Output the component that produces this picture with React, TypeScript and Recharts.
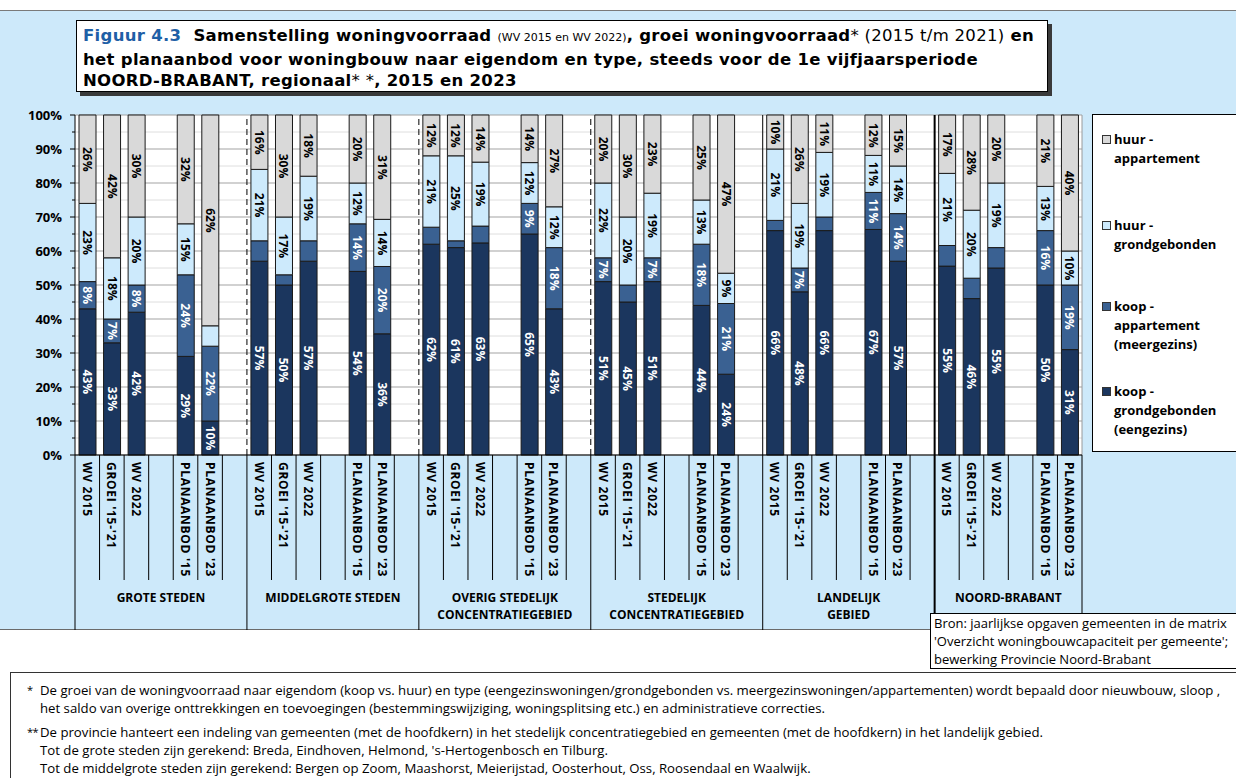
import { BarChart, Bar, XAxis, YAxis, CartesianGrid, ReferenceLine, LabelList } from "recharts"

// regions along the category axis
const regions = [
  ["GROTE STEDEN"],
  ["MIDDELGROTE STEDEN"],
  ["OVERIG STEDELIJK", "CONCENTRATIEGEBIED"],
  ["STEDELIJK", "CONCENTRATIEGEBIED"],
  ["LANDELIJK", "GEBIED"],
  ["NOORD-BRABANT"],
]

// slots per region, "" is an empty spacer column
const slots = ["WV 2015", "GROEI '15-'21", "WV 2022", "", "PLANAANBOD '15", "PLANAANBOD '23", ""]

// shares (%) per region: WV 2015, groei '15-'21, WV 2022, planaanbod '15, planaanbod '23
const koopGrond = [
  [43, 33, 42, 29, 10],
  [57, 50, 57, 54, 36],
  [62, 61, 63, 65, 43],
  [51, 45, 51, 44, 24],
  [66, 48, 66, 67, 57],
  [55, 46, 55, 50, 31],
]
const koopApp = [
  [8, 7, 8, 24, 22],
  [6, 3, 6, 14, 20],
  [5, 2, 5, 9, 18],
  [7, 5, 7, 18, 21],
  [3, 7, 4, 11, 14],
  [6, 6, 6, 16, 19],
]
const huurGrond = [
  [23, 18, 20, 15, 6],
  [21, 17, 19, 12, 14],
  [21, 25, 19, 12, 12],
  [22, 20, 19, 13, 9],
  [21, 19, 19, 11, 14],
  [21, 20, 19, 13, 10],
]
const huurApp = [
  [26, 42, 30, 32, 62],
  [16, 30, 18, 20, 31],
  [12, 12, 14, 14, 27],
  [20, 30, 23, 25, 47],
  [10, 26, 11, 12, 15],
  [17, 28, 20, 21, 40],
]

const yTickPercents = [0, 5, 10, 15, 20, 25, 30, 35, 40, 45, 50, 55, 60, 65, 70, 75, 80, 85, 90, 95, 100]

const series = [
  { key: "kg", values: koopGrond, name: ["koop -", "grondgebonden", "(eengezins)"], fill: "#1b365e", text: "#ffffff" },
  { key: "ka", values: koopApp, name: ["koop -", "appartement", "(meergezins)"], fill: "#3a6192", text: "#ffffff" },
  { key: "hg", values: huurGrond, name: ["huur -", "grondgebonden"], fill: "#cdeafc", text: "#000000" },
  { key: "ha", values: huurApp, name: ["huur -", "appartement"], fill: "#d9d9d9", text: "#000000" },
]

const sourceLines = [
  "Bron: jaarlijkse opgaven gemeenten in de matrix",
  "'Overzicht woningbouwcapaciteit per gemeente';",
  "bewerking Provincie Noord-Brabant",
]

const notes = [
  {
    mark: "*",
    lines: [
      "De groei van de woningvoorraad naar eigendom (koop vs. huur) en type (eengezinswoningen/grondgebonden vs. meergezinswoningen/appartementen) wordt bepaald door nieuwbouw, sloop ,",
      "het saldo van overige onttrekkingen en toevoegingen (bestemmingswijziging, woningsplitsing etc.) en administratieve correcties.",
    ],
  },
  {
    mark: "**",
    lines: [
      "De provincie hanteert een indeling van gemeenten (met de hoofdkern) in het stedelijk concentratiegebied en gemeenten (met de hoofdkern) in het landelijk gebied.",
      "Tot de grote steden zijn gerekend: Breda, Eindhoven, Helmond, 's-Hertogenbosch en Tilburg.",
      "Tot de middelgrote steden zijn gerekend: Bergen op Zoom, Maashorst, Meierijstad, Oosterhout, Oss, Roosendaal en Waalwijk.",
    ],
  },
]

type Row = { id: string; label: string; group: number; first: boolean; size: number; [k: string]: any }

const rows: Row[] = []
regions.forEach((_, g) => {
  const used = g === regions.length - 1 ? slots.slice(0, 6) : slots
  let bar = 0
  used.forEach((label, s) => {
    const row: Row = { id: `${g}-${s}`, label, group: g, first: s === 0, size: used.length }
    if (label) {
      series.forEach((sr) => (row[sr.key] = sr.values[g][bar]))
      bar++
    }
    rows.push(row)
  })
})
const rowById = new Map(rows.map((r) => [r.id, r]))

const BOLD = "'Open Sans', sans-serif"
const LIGHT = "'Open Sans', sans-serif"
const HEAD = "'DejaVu Sans', sans-serif"
const BLUE = "#cde9fa"

const CHART_W = 1090
const CHART_H = 540
const MARGIN = { top: 15, right: 8, bottom: 10, left: 0 }
const Y_AXIS_W = 75
const BAND = (CHART_W - MARGIN.left - MARGIN.right - Y_AXIS_W) / rows.length

// dividers after the spacer column of each region
const separators = [
  { after: "0-6", dash: "6 4", width: 1 },
  { after: "1-6", dash: "6 4", width: 1 },
  { after: "2-6", dash: "6 4", width: 1 },
  { after: "3-6", dash: undefined, width: 1 },
  { after: "4-6", dash: undefined, width: 2 },
]

function PercentTick({ x, y, payload }: any) {
  const pct = Math.round(payload.value * 100)
  const major = pct % 10 === 0
  return (
    <g>
      <line x1={x - (major ? 5 : 3)} x2={x} y1={y} y2={y} stroke="#000" />
      {major && (
        <text x={x - 13} y={y} textAnchor="end" dominantBaseline="central" fontFamily={BOLD} fontWeight={700} fontSize={13} fill="#000">
          {pct}%
        </text>
      )}
    </g>
  )
}

function CategoryTick({ x, y, payload }: any) {
  const row = rowById.get(payload.value)
  if (!row) return null
  const left = x - BAND / 2
  const regionLabel = regions[row.group]
  return (
    <g>
      <line x1={left} x2={left} y1={y} y2={y + (row.first ? 175 : 125)} stroke="#000" strokeWidth={row.first && row.group === 5 ? 2 : 1} />
      {row.id === rows[rows.length - 1].id && <line x1={x + BAND / 2} x2={x + BAND / 2} y1={y} y2={y + 158} stroke="#000" />}
      {row.label && (
        <text
          x={x}
          y={y + 7}
          transform={`rotate(90 ${x} ${y + 7})`}
          textAnchor="start"
          dominantBaseline="central"
          fontFamily={BOLD}
          fontWeight={700}
          fontSize={12}
          letterSpacing={0.7}
          fill="#000"
        >
          {row.label}
        </text>
      )}
      {row.first &&
        regionLabel.map((line, i) => (
          <text
            key={line}
            x={left + (row.size * BAND) / 2}
            y={y + 142 + i * 17}
            textAnchor="middle"
            dominantBaseline="central"
            fontFamily={BOLD}
            fontWeight={700}
            fontSize={12}
            fill="#000"
          >
            {line}
          </text>
        ))}
    </g>
  )
}

const segmentLabel = (color: string) => (props: any) => {
  const { x, y, width, height, value } = props
  if (value == null || value < 7) return null
  const cx = x + width / 2
  const cy = y + height / 2
  return (
    <text
      x={cx}
      y={cy}
      transform={`rotate(90 ${cx} ${cy})`}
      textAnchor="middle"
      dominantBaseline="central"
      fontFamily={BOLD}
      fontWeight={700}
      fontSize={12}
      fill={color}
    >
      {value}%
    </text>
  )
}

function GridLine(props: any) {
  const { x1, x2, y1, y2, index } = props
  return <line x1={x1} x2={x2} y1={y1} y2={y2} stroke={index % 2 === 0 ? "#a3a3a3" : "#dedede"} strokeWidth={1} />
}

const legendTops = [139, 225, 306, 391]

export default function App() {
  return (
    <div style={{ position: "absolute", left: 0, top: 0, width: 1236, height: 778, background: "#fff", overflow: "hidden" }}>
      {/* blue panel behind the chart */}
      <div style={{ position: "absolute", left: 0, top: 10, width: 1236, height: 620, background: BLUE, borderTop: "1px solid #7a7a7a", borderBottom: "1px solid #6a6a6a", boxSizing: "border-box" }} />

      {/* title */}
      <div
        style={{
          position: "absolute",
          left: 76,
          top: 20,
          width: 972,
          height: 72,
          background: "#fff",
          border: "1px solid #000",
          boxShadow: "4px 4px 0 #3a3a3a",
          boxSizing: "border-box",
          padding: "4px 0 0 6px",
          fontFamily: HEAD,
          fontWeight: 700,
          fontSize: 16.5,
          letterSpacing: 0.3,
          lineHeight: "21.5px",
          whiteSpace: "nowrap",
          color: "#000",
        }}
      >
        <span style={{ color: "#1f5fa6" }}>Figuur 4.3</span>&nbsp; Samenstelling woningvoorraad{" "}
        <span style={{ fontWeight: 400, fontSize: 11, letterSpacing: 0 }}>(WV 2015 en WV 2022)</span>, groei woningvoorraad
        <span style={{ fontWeight: 400 }}>* (2015 t/m 2021)</span> en
        <br />
        het planaanbod voor woningbouw naar eigendom en type, steeds voor de 1e vijfjaarsperiode
        <br />
        NOORD-BRABANT, regionaal<span style={{ fontWeight: 400 }}>* *</span>, 2015 en 2023
      </div>

      <div style={{ position: "absolute", left: 0, top: 100 }}>
        <BarChart width={CHART_W} height={CHART_H} data={rows} margin={MARGIN} stackOffset="expand" barSize={17}>
          <CartesianGrid vertical={false} fill="#fff" horizontal={(p: any) => <GridLine {...p} />} />
          <XAxis
            dataKey="id"
            interval={0}
            height={175}
            tickSize={0}
            tickMargin={0}
            tickLine={false}
            axisLine={{ stroke: "#000" }}
            tick={<CategoryTick />}
          />
          <YAxis
            type="number"
            domain={[0, 1]}
            ticks={yTickPercents.map((p) => p / 100)}
            interval={0}
            width={Y_AXIS_W}
            tickSize={0}
            tickMargin={0}
            tickLine={false}
            axisLine={{ stroke: "#000" }}
            tick={<PercentTick />}
          />
          {separators.map((s) => (
            <ReferenceLine key={s.after} x={s.after} position="end" stroke="#000" strokeWidth={s.width} strokeDasharray={s.dash} />
          ))}
          <ReferenceLine x={rows[rows.length - 1].id} position="end" stroke="#9a9a9a" />
          {series.map((s) => (
            <Bar key={s.key} dataKey={s.key} stackId="share" fill={s.fill} stroke="#1a1a1a" strokeWidth={1} isAnimationActive={false}>
              <LabelList dataKey={s.key} content={segmentLabel(s.text)} />
            </Bar>
          ))}
        </BarChart>
      </div>

      {/* legend */}
      <div style={{ position: "absolute", left: 1092, top: 114, width: 160, height: 338, background: "#fff", border: "1px solid #000", boxSizing: "border-box" }} />
      {[...series].reverse().map((s, i) => (
        <div
          key={s.key}
          style={{
            position: "absolute",
            left: 1102,
            top: legendTops[i] - 9.5,
            fontFamily: BOLD,
            fontWeight: 700,
            fontSize: 13,
            lineHeight: "19px",
            color: "#000",
          }}
        >
          <span style={{ position: "absolute", left: 0, top: 5, width: 9, height: 9, background: s.fill, border: "1px solid #333", boxSizing: "border-box" }} />
          <div style={{ marginLeft: 12 }}>
            {s.name.map((n) => (
              <div key={n} style={{ whiteSpace: "nowrap" }}>
                {n}
              </div>
            ))}
          </div>
        </div>
      ))}

      {/* source */}
      <div
        style={{
          position: "absolute",
          left: 930,
          top: 613,
          width: 320,
          height: 56,
          background: "#fff",
          border: "1px solid #000",
          boxSizing: "border-box",
          padding: "0 0 0 3px",
          fontFamily: LIGHT,
          fontSize: 13,
          lineHeight: "18px",
          whiteSpace: "nowrap",
          color: "#000",
        }}
      >
        {sourceLines.map((l) => (
          <div key={l}>{l}</div>
        ))}
      </div>

      {/* footnotes */}
      <div style={{ position: "absolute", left: 10, top: 672, width: 1226, height: 106, borderTop: "1px solid #333", borderLeft: "1px solid #333" }} />
      <div style={{ position: "absolute", left: 27, top: 681, fontFamily: LIGHT, fontSize: 13.2, color: "#000" }}>
        {notes.map((n, i) => (
          <div key={n.mark} style={{ position: "relative", marginTop: i === 0 ? 0 : 6 }}>
            <span style={{ position: "absolute", left: 0, top: 0, lineHeight: "18px", fontSize: 11, letterSpacing: -0.5 }}>{n.mark}</span>
            <div style={{ marginLeft: 13 }}>
              {n.lines.map((l) => (
                <div key={l} style={{ whiteSpace: "nowrap", lineHeight: "18px" }}>
                  {l}
                </div>
              ))}
            </div>
          </div>
        ))}
      </div>
    </div>
  )
}
